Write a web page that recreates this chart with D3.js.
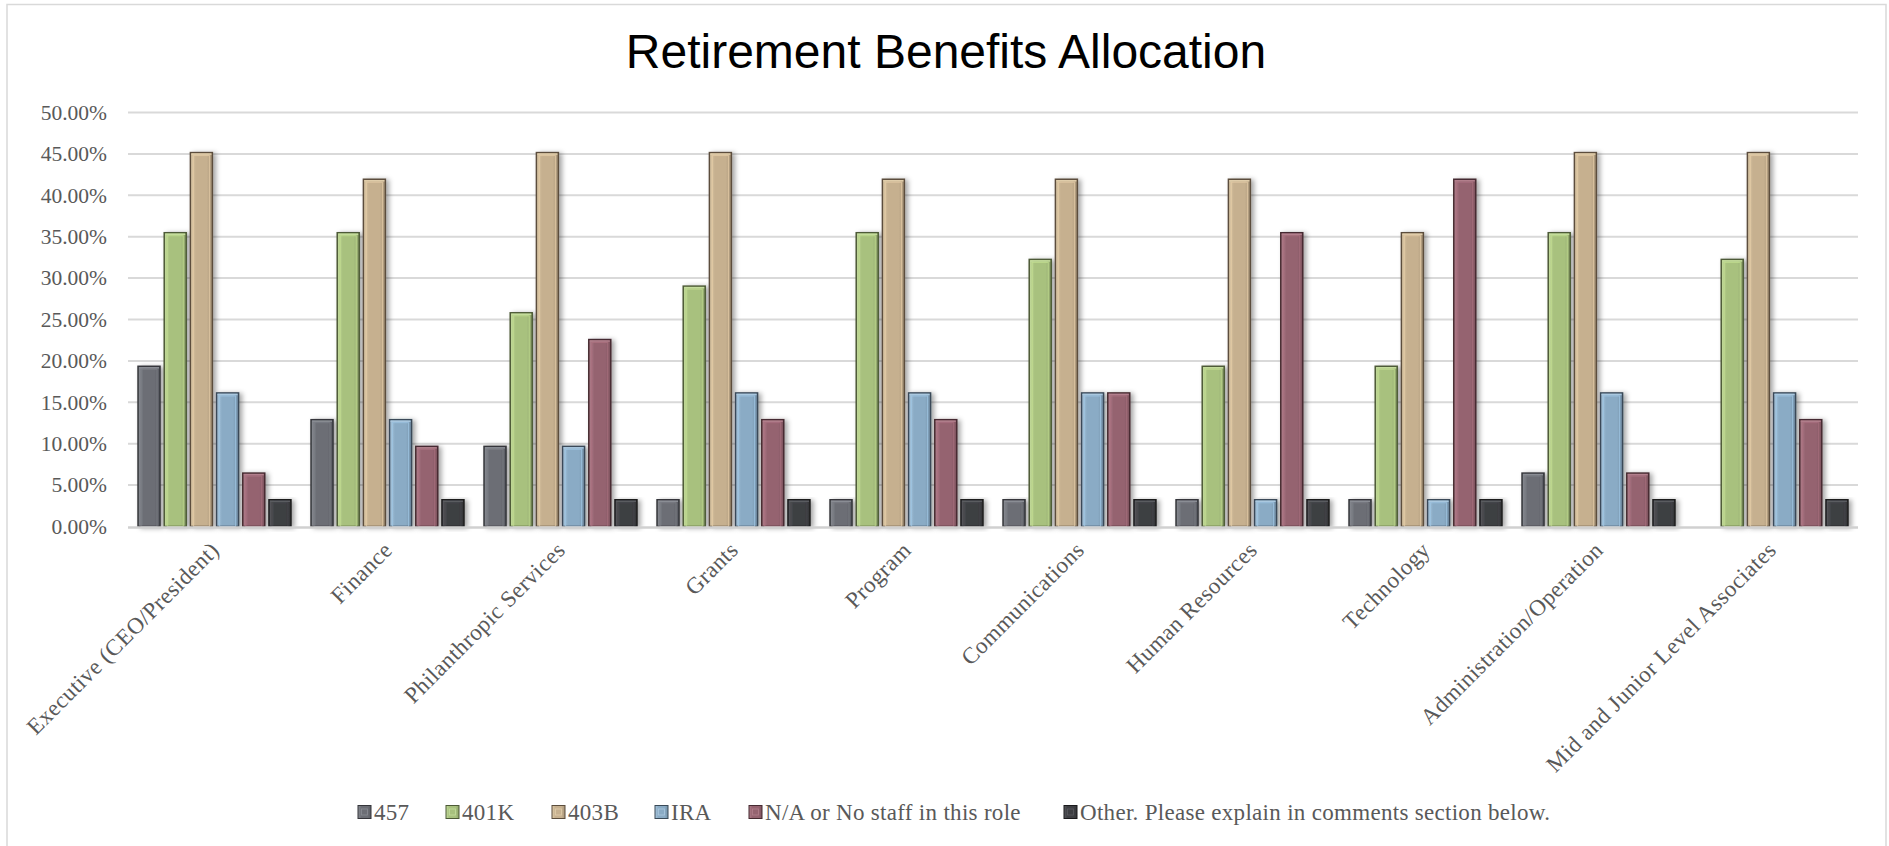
<!DOCTYPE html>
<html>
<head>
<meta charset="utf-8">
<script src="https://cdn.jsdelivr.net/npm/d3@7"></script>
<style>
  html, body { margin: 0; padding: 0; background: #fff; }
  svg { display: block; }
</style>
</head>
<body>
<svg id="chart" width="1889" height="846"></svg>
<script>
const categories = ["Executive (CEO/President)", "Finance", "Philanthropic Services", "Grants", "Program",
  "Communications", "Human Resources", "Technology", "Administration/Operation", "Mid and Junior Level Associates"];
const seriesNames = ["457", "401K", "403B", "IRA", "N/A or No staff in this role", "Other. Please explain in comments section below."];
const s457   = [0.1935, 0.1290, 0.0968, 0.0323, 0.0323, 0.0323, 0.0323, 0.0323, 0.0645, null];
const s401K  = [0.3548, 0.3548, 0.2581, 0.2903, 0.3548, 0.3226, 0.1935, 0.1935, 0.3548, 0.3226];
const s403B  = [0.4516, 0.4194, 0.4516, 0.4516, 0.4194, 0.4194, 0.4194, 0.3548, 0.4516, 0.4516];
const sIRA   = [0.1613, 0.1290, 0.0968, 0.1613, 0.1613, 0.1613, 0.0323, 0.0323, 0.1613, 0.1613];
const sNA    = [0.0645, 0.0968, 0.2258, 0.1290, 0.1290, 0.1613, 0.3548, 0.4194, 0.0645, 0.1290];
const sOther = [0.0323, 0.0323, 0.0323, 0.0323, 0.0323, 0.0323, 0.0323, 0.0323, 0.0323, 0.0323];
const yTicks = [0, 0.05, 0.10, 0.15, 0.20, 0.25, 0.30, 0.35, 0.40, 0.45, 0.50];

const seriesValues = [s457, s401K, s403B, sIRA, sNA, sOther];
const fills   = ["#6c6e75", "#a8c17e", "#c6b08f", "#8aabc5", "#956370", "#3e3f43"];
const lights  = ["#8a8d94", "#c4dc9c", "#e0cdaa", "#aac8df", "#b27f8c", "#5a5b60"];
const darks   = ["#34353a", "#4d5a37", "#5b4d3c", "#3a4a58", "#452a31", "#1a1a1c"];

const svg = d3.select("#chart");
const defs = svg.append("defs");

const shadow = defs.append("filter").attr("id", "shadow")
  .attr("x", "-30%").attr("y", "-10%").attr("width", "180%").attr("height", "130%");
shadow.append("feDropShadow").attr("dx", 3).attr("dy", 1).attr("stdDeviation", 2.5)
  .attr("flood-color", "#000").attr("flood-opacity", 0.35);

fills.forEach((c, i) => {
  const g = defs.append("linearGradient").attr("id", "grad" + i)
    .attr("x1", "0").attr("x2", "1").attr("y1", "0").attr("y2", "0");
  g.append("stop").attr("offset", "0%").attr("stop-color", lights[i]);
  g.append("stop").attr("offset", "25%").attr("stop-color", c);
  g.append("stop").attr("offset", "75%").attr("stop-color", c);
  g.append("stop").attr("offset", "100%").attr("stop-color", d3.color(c).darker(0.5));
});

// chart border
svg.append("rect").attr("x", 7).attr("y", 4.5).attr("width", 1879).attr("height", 860)
  .attr("fill", "none").attr("stroke", "#d9d9d9").attr("stroke-width", 1.5);

// title
svg.append("text").attr("x", 946).attr("y", 68).attr("text-anchor", "middle")
  .attr("font-family", "Liberation Sans, Arial, sans-serif").attr("font-size", 48)
  .attr("fill", "#000").text("Retirement Benefits Allocation");

const plotLeft = 128, plotRight = 1858;
const y = d3.scaleLinear().domain([0, 0.5]).range([526.5, 112.5]);
const x0 = d3.scaleBand().domain(categories).range([plotLeft, plotRight])
  .paddingInner(0.116).paddingOuter(0.058);
const x1 = d3.scaleBand().domain(seriesNames).range([0, x0.bandwidth()]).paddingInner(0.16).paddingOuter(0);

// gridlines
const grid = svg.append("g");
grid.selectAll("line").data(yTicks.filter(d => d > 0)).join("line")
  .attr("x1", plotLeft).attr("x2", plotRight)
  .attr("y1", d => y(d)).attr("y2", d => y(d))
  .attr("stroke", "#d9d9d9").attr("stroke-width", 2);

// y axis labels
const yAxis = d3.axisLeft(y).tickValues(yTicks).tickFormat(d3.format(".2%")).tickSize(0).tickPadding(0);
const yg = svg.append("g").attr("transform", `translate(${plotLeft - 21},0)`).call(yAxis);
yg.select(".domain").remove();
yg.selectAll("text").attr("font-family", "Liberation Serif, Times New Roman, serif")
  .attr("font-size", 21.5).attr("fill", "#595959");

// bars
const groups = svg.append("g").selectAll("g").data(categories).join("g")
  .attr("transform", d => `translate(${x0(d)},0)`);

groups.each(function(cat, ci) {
  const g = d3.select(this);
  seriesNames.forEach((s, si) => {
    const v = seriesValues[si][ci];
    if (v == null || v <= 0) return;
    const bx = x1(s), bw = x1.bandwidth();
    const by = y(v), bh = y(0) - y(v);
    const bar = g.append("g").attr("filter", "url(#shadow)");
    bar.append("rect").attr("x", bx).attr("y", by).attr("width", bw).attr("height", bh)
      .attr("fill", `url(#grad${si})`).attr("stroke", darks[si]).attr("stroke-width", 1.5);
    bar.append("rect").attr("x", bx + 3).attr("y", by + 3).attr("width", bw - 6).attr("height", Math.max(0, bh - 3))
      .attr("fill", "none").attr("stroke", d3.color(fills[si]).brighter(0.4)).attr("stroke-width", 1).attr("opacity", 0.8);
    bar.append("line").attr("x1", bx + 1).attr("x2", bx + bw - 1).attr("y1", by + 1.5).attr("y2", by + 1.5)
      .attr("stroke", lights[si]).attr("stroke-width", 1.5);
  });
});

// baseline
svg.append("line").attr("x1", plotLeft).attr("x2", plotRight)
  .attr("y1", y(0) + 1).attr("y2", y(0) + 1).attr("stroke", "#d0d0d0").attr("stroke-width", 2.5);

// x labels
const xAxis = d3.axisBottom(x0).tickSize(0).tickPadding(0);
const xg = svg.append("g").attr("transform", `translate(0,${y(0)})`).call(xAxis);
xg.select(".domain").remove();
xg.selectAll(".tick text")
  .attr("font-family", "Liberation Serif, Times New Roman, serif").attr("font-size", 23).attr("fill", "#595959")
  .attr("letter-spacing", 0.4)
  .attr("text-anchor", "end").attr("dy", 0)
  .attr("transform", "translate(6,25) rotate(-45)");

// legend
const legendX = [358, 446, 552, 655, 749, 1064];
const legend = svg.append("g").attr("transform", "translate(0,812)");
seriesNames.forEach((s, i) => {
  const lg = legend.append("g").attr("transform", `translate(${legendX[i]},0)`);
  lg.append("rect").attr("x", 0).attr("y", -6.5).attr("width", 13).attr("height", 13)
    .attr("fill", `url(#grad${i})`).attr("stroke", darks[i]).attr("stroke-width", 1);
  lg.append("rect").attr("x", 3.5).attr("y", -3).attr("width", 6).attr("height", 6)
    .attr("fill", "none").attr("stroke", lights[i]).attr("stroke-width", 0.8);
  lg.append("text").attr("x", 16).attr("y", 7.5)
    .attr("font-family", "Liberation Serif, Times New Roman, serif").attr("font-size", 23)
    .attr("letter-spacing", 0.3)
    .attr("fill", "#595959").text(s);
});
</script>
</body>
</html>
